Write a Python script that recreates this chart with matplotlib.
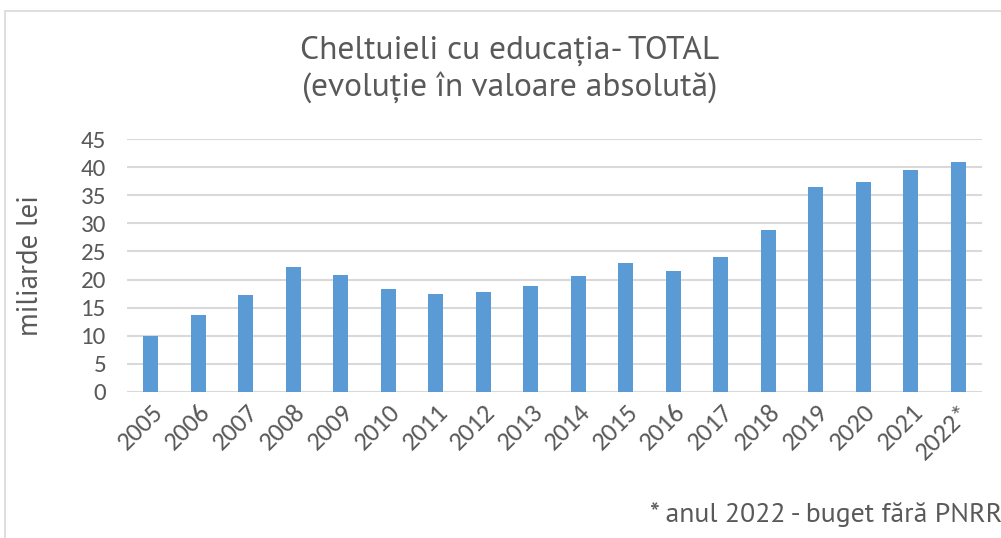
import matplotlib.pyplot as plt
from matplotlib.patches import Rectangle

years = ['2005', '2006', '2007', '2008', '2009', '2010', '2011', '2012', '2013',
         '2014', '2015', '2016', '2017', '2018', '2019', '2020', '2021', '2022*']
values = [10.0, 13.7, 17.3, 22.2, 20.8, 18.4, 17.5, 17.8, 18.9,
          20.6, 23.0, 21.6, 24.0, 28.9, 36.5, 37.4, 39.5, 40.9]

fonts = ['Carlito', 'DejaVu Sans']
title_fonts = ['PT Sans', 'Carlito', 'DejaVu Sans']
plt.rcParams['font.family'] = fonts
grey = '#595959'

W, H = 1001, 538
fig = plt.figure(figsize=(W / 100, H / 100), dpi=100)
ax = fig.add_axes([127 / W, 1 - 392 / H, (982 - 127) / W, (392 - 139) / H])

ax.bar(range(len(years)), values, width=0.32, color='#5b9bd5', zorder=3)
ax.set_xlim(-0.5, len(years) - 0.5)
ax.set_ylim(0, 45)
ax.set_yticks(range(0, 46, 5))
ax.set_xticks(range(len(years)))
ax.set_xticklabels(years, rotation=45, ha='right', rotation_mode='anchor')
ax.grid(axis='y', color='#d9d9d9', linewidth=1.5, zorder=0)
for s in ax.spines.values():
    s.set_visible(False)
ax.tick_params(length=0, labelsize=18, colors=grey)
ax.tick_params(axis='y', pad=15)
ax.tick_params(axis='x', pad=6, labelsize=19)

ax.set_ylabel('miliarde lei', fontsize=21, color=grey, family=title_fonts)
ax.yaxis.set_label_coords(-0.097, 0.5)

fig.text(510 / W, 1 - 51 / H, 'Cheltuieli cu educația- TOTAL', ha='center', va='center',
         fontsize=24, color=grey, family=title_fonts)
fig.text(510 / W, 1 - 87 / H, '(evoluție în valoare absolută)', ha='center', va='center',
         fontsize=24, color=grey, family=title_fonts)
fig.text(650 / W, 1 - 515 / H, '* anul 2022 - buget fără PNRR', ha='left', va='center',
         fontsize=20, color=grey, family=title_fonts)

fig.patches.append(Rectangle((5 / W, -0.1), 1.1, 1 - 11 / H + 0.1, transform=fig.transFigure,
                             fill=False, edgecolor='#d9d9d9', linewidth=1.2))

fig.savefig('out.png', dpi=100)
